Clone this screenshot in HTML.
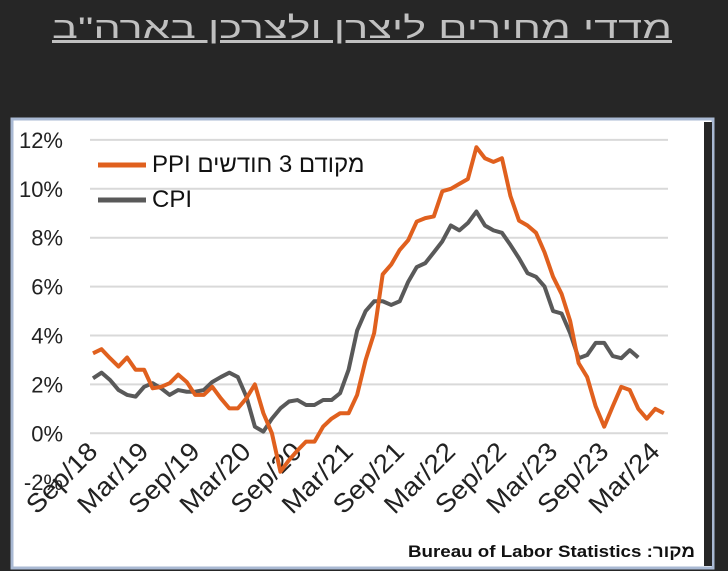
<!DOCTYPE html>
<html><head><meta charset="utf-8"><style>
body{margin:0;background:#262626;width:728px;height:571px;overflow:hidden;position:relative}
svg{display:block;font-family:"Liberation Sans","Noto Sans CJK JP",sans-serif}
.leg{position:absolute;left:152px;font-family:"Liberation Sans","Noto Sans CJK JP",sans-serif;font-size:24px;color:#111;white-space:nowrap;line-height:28px}
</style></head><body>
<svg width="728" height="571">
<rect x="0" y="0" width="728" height="571" fill="#262626"/>
<text x="362" y="38" text-anchor="middle" font-size="30" fill="#c0c0c0" text-decoration="underline" direction="rtl" textLength="620" lengthAdjust="spacingAndGlyphs">מדדי מחירים ליצרן ולצרכן בארה"ב</text>
<rect x="12" y="119" width="701" height="449" fill="#ffffff" stroke="#a9b9d3" stroke-width="3"/>
<rect x="704" y="122" width="8" height="444" fill="#262626"/>
<g id="grid"></g><g id="ylabels"></g><g id="xlabels"></g><g id="series"></g>
<line x1="98" y1="165" x2="146" y2="165" stroke="#e0601e" stroke-width="5"/>
<line x1="98" y1="200" x2="146" y2="200" stroke="#595959" stroke-width="5"/>
<text x="695" y="557" text-anchor="end" font-size="17" font-weight="bold" fill="#111" textLength="287" lengthAdjust="spacingAndGlyphs">Bureau of Labor Statistics :מקור</text>
</svg>
<div class="leg" dir="rtl" style="top:151px">מקודם 3 חודשים PPI</div>
<div class="leg" style="top:186px">CPI</div>
<script>
const yTicks=[-2,0,2,4,6,8,10,12];
const yTickLabels=["-2%","0%","2%","4%","6%","8%","10%","12%"];
const xTickIndex=[0,6,12,18,24,30,36,42,48,54,60,66];
const xTickLabels=["Sep/18","Mar/19","Sep/19","Mar/20","Sep/20","Mar/21","Sep/21","Mar/22","Sep/22","Mar/23","Sep/23","Mar/24"];
const ppi=[3.27,3.44,3.07,2.73,3.1,2.6,2.6,1.84,1.9,2.05,2.4,2.1,1.57,1.57,1.9,1.43,1.02,1.02,1.43,2.0,0.82,0,-1.57,-1.1,-0.7,-0.34,-0.34,0.27,0.6,0.82,0.82,1.57,3.0,4.1,6.5,6.9,7.5,7.9,8.66,8.8,8.87,9.9,10.0,10.2,10.4,11.7,11.25,11.1,11.25,9.7,8.7,8.5,8.2,7.4,6.4,5.7,4.6,2.87,2.3,1.1,0.27,1.1,1.9,1.77,1.0,0.6,1.0,0.82];
const cpi=[2.25,2.48,2.18,1.77,1.57,1.5,1.9,2.05,1.84,1.57,1.77,1.7,1.7,1.77,2.1,2.3,2.48,2.3,1.5,0.27,0.07,0.6,1.02,1.3,1.36,1.16,1.16,1.36,1.36,1.64,2.6,4.2,5.0,5.4,5.4,5.25,5.4,6.2,6.8,6.96,7.4,7.85,8.5,8.3,8.6,9.07,8.5,8.3,8.2,7.7,7.16,6.55,6.4,6.0,5.0,4.9,4.1,3.07,3.2,3.7,3.7,3.16,3.07,3.4,3.1];
const NS="http://www.w3.org/2000/svg";
function xS(i){return 93+i*8.52;}
function yS(v){return 433.3-v*24.45;}
function mk(tag,attrs,parent){const e=document.createElementNS(NS,tag);for(const k in attrs)e.setAttribute(k,attrs[k]);parent.appendChild(e);return e;}
const grid=document.getElementById('grid'),yl=document.getElementById('ylabels'),xl=document.getElementById('xlabels'),ser=document.getElementById('series');
yTicks.forEach((t,k)=>{
  if(t>-2){const l=mk('line',{x1:90,x2:668,y1:yS(t),y2:yS(t),stroke:'#d9d9d9','stroke-width':2},grid);
  
  }
  const tx=mk('text',{x:63,y:yS(t)+8,'text-anchor':'end','font-size':22,fill:'#222'},yl);
  tx.textContent=yTickLabels[k];
  
  
});
xTickIndex.forEach((idx,k)=>{
  const x=xS(idx)+6,y=453;
  const tx=mk('text',{x:x,y:y,'text-anchor':'end','font-size':26,fill:'#222',textLength:88,lengthAdjust:'spacingAndGlyphs',transform:'rotate(-45 '+x+' '+y+')'},xl);
  tx.textContent=xTickLabels[k];
  
  
});
function line(data,color,name){
  const p=mk('polyline',{points:data.map((v,i)=>xS(i)+','+yS(v)).join(' '),fill:'none',stroke:color,'stroke-width':4,'stroke-linejoin':'round'},ser);
  
  
}
line(cpi,'#595959','cpi-line');
line(ppi,'#e0601e','ppi-line');
</script>
</body></html>
